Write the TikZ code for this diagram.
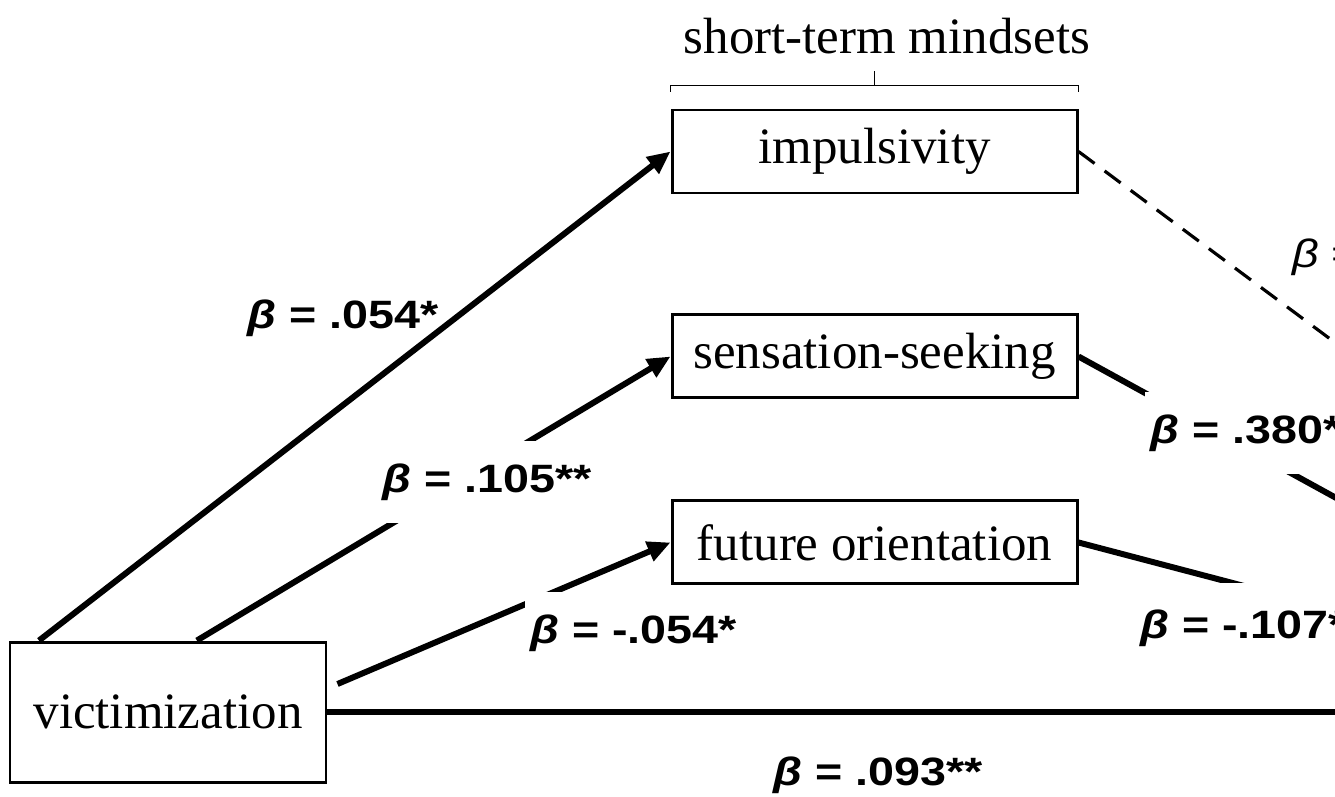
\documentclass[tikz,border=0pt]{standalone}
\usepackage{fontspec}
\setmainfont{Liberation Serif}
\newfontfamily\coeffont[FakeStretch=1.18]{Liberation Sans}
\usetikzlibrary{arrows.meta,positioning}

\begin{document}
\begin{tikzpicture}[
  font=\fontsize{29}{34}\selectfont,
  >={Triangle[length=0.46cm,width=0.4cm]},
  var/.style={draw,line width=1.7pt,minimum height=1.66cm,inner sep=0pt},
  med/.style={var,minimum width=8.1cm},
  path/.style={line width=3.4pt},
  coef/.style={font=\coeffont\fontsize{22.5}{27}\selectfont\bfseries,fill=white,
               inner xsep=0.1cm,inner ysep=0.45cm,anchor=base west},
  brace/.style={line width=0.6pt}
]
\useasboundingbox (0,0) rectangle (26.7,15.92);
\clip (0,0) rectangle (26.7,15.92);

\node[var,minimum width=6.32cm,minimum height=2.8cm] (vic) at (3.36,1.68) {victimization};
\node[med] (imp) at (17.49,12.89) {impulsivity};
\node[med,below=2.38cm of imp] (sen) {sensation-seeking};
\node[med,below=2.0cm of sen] (fut) {future orientation};

% bracket over the mediators
\draw[brace] ([yshift=0.34cm]imp.north west) -- ++(0,0.12) -| ([yshift=0.34cm]imp.north east);
\draw[brace] ([yshift=0.46cm]imp.north) -- ++(0,0.3);
\node (stm) at ([xshift=0.25cm,yshift=1.44cm]imp.north) {short-term mindsets};

% free ends, outside the frame
\coordinate (imp-out) at (28.0,8.10);
\coordinate (sen-out) at (28.0,5.26);
\coordinate (fut-out) at (28.0,3.38);
\coordinate (vic-out) at (28.0,1.68);

\draw[path,->] (vic.151) -- (imp.west);
\draw[path,->] (vic.68) -- (sen.west);
\draw[path,->] ([xshift=0.2cm,yshift=0.56cm]vic.east) -- (fut.west);

\draw[line width=1.8pt,dash pattern=on 0.4cm off 0.25cm] (imp.east) -- (imp-out);
\draw[path] (sen.east) -- (sen-out);
\draw[path] (fut.east) -- (fut-out);
\draw[path] (vic.east) -- (vic-out);

\node[coef,fill=none] (c-imp) at (4.84,9.36) {\textit{β} = .054*};
\node[coef] (c-sen) at (7.54,6.08) {\textit{β} = .105**};
\node[coef] (c-fut) at (10.5,3.06) {\textit{β} = -.054*};
\node[coef,font=\coeffont\fontsize{22.5}{27}\selectfont] (d-imp) at (25.74,10.58) {\textit{β} = };
\node[coef] (d-sen) at (22.9,7.06) {\textit{β} = .380**};
\node[coef,inner ysep=0.52cm] (d-fut) at (22.7,3.16) {\textit{β} = -.107**};
\node[coef] (c-vic) at (15.36,0.22) {\textit{β} = .093**};

\end{tikzpicture}
\end{document}
